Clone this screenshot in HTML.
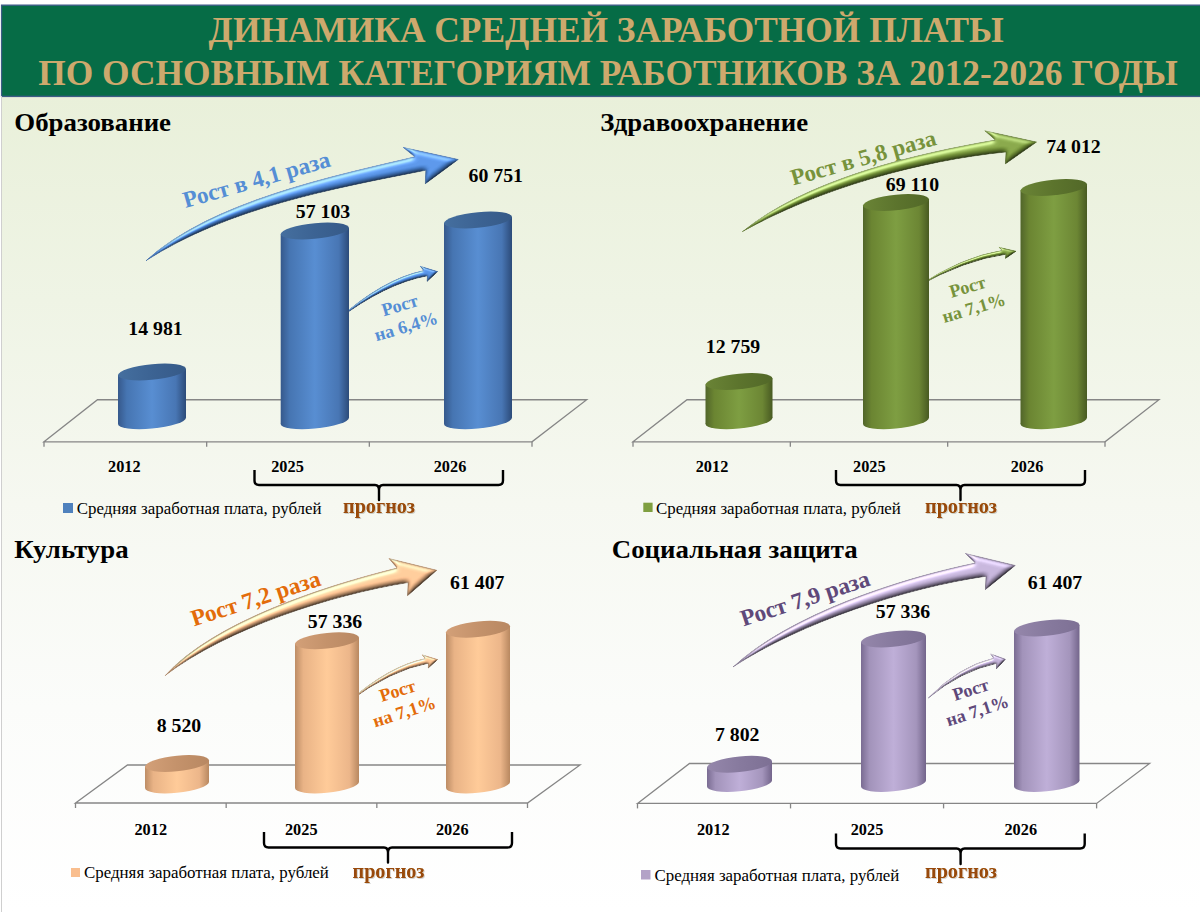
<!DOCTYPE html>
<html lang="ru"><head><meta charset="utf-8"><title>Динамика средней заработной платы</title>
<style>
html,body{margin:0;padding:0;background:#fff;}
body{width:1200px;height:912px;overflow:hidden;font-family:"Liberation Serif",serif;}
svg text{font-family:"Liberation Serif",serif;white-space:pre;}
</style></head><body>
<svg width="1200" height="912" viewBox="0 0 1200 912" font-family="'Liberation Serif', serif" style="display:block">
<defs>
<linearGradient id="gb_b" x1="0" y1="0" x2="1" y2="0"><stop offset="0" stop-color="#36598C"/><stop offset="0.13" stop-color="#4675B2"/><stop offset="0.5" stop-color="#588ED2"/><stop offset="0.85" stop-color="#4876B4"/><stop offset="1" stop-color="#2C4B79"/></linearGradient>
<linearGradient id="gt_b" x1="0" y1="0" x2="1" y2="0"><stop offset="0" stop-color="#456F9F"/><stop offset="0.5" stop-color="#3C6393"/><stop offset="1" stop-color="#365A88"/></linearGradient>
<linearGradient id="gb_g" x1="0" y1="0" x2="1" y2="0"><stop offset="0" stop-color="#51652A"/><stop offset="0.13" stop-color="#6B8532"/><stop offset="0.5" stop-color="#7E9E42"/><stop offset="0.85" stop-color="#6C8634"/><stop offset="1" stop-color="#485A22"/></linearGradient>
<linearGradient id="gt_g" x1="0" y1="0" x2="1" y2="0"><stop offset="0" stop-color="#6A8436"/><stop offset="0.5" stop-color="#5C742D"/><stop offset="1" stop-color="#526828"/></linearGradient>
<linearGradient id="gb_o" x1="0" y1="0" x2="1" y2="0"><stop offset="0" stop-color="#BD8D66"/><stop offset="0.13" stop-color="#E9B386"/><stop offset="0.5" stop-color="#FFCB99"/><stop offset="0.85" stop-color="#ECB68A"/><stop offset="1" stop-color="#B88860"/></linearGradient>
<linearGradient id="gt_o" x1="0" y1="0" x2="1" y2="0"><stop offset="0" stop-color="#D3A078"/><stop offset="0.5" stop-color="#C4926B"/><stop offset="1" stop-color="#B88862"/></linearGradient>
<linearGradient id="gb_p" x1="0" y1="0" x2="1" y2="0"><stop offset="0" stop-color="#7A6C92"/><stop offset="0.13" stop-color="#A293BA"/><stop offset="0.5" stop-color="#BFAFD8"/><stop offset="0.85" stop-color="#A495BC"/><stop offset="1" stop-color="#73658B"/></linearGradient>
<linearGradient id="gt_p" x1="0" y1="0" x2="1" y2="0"><stop offset="0" stop-color="#9587AB"/><stop offset="0.5" stop-color="#877A9E"/><stop offset="1" stop-color="#7D7094"/></linearGradient>
<filter id="bev" x="-5%" y="-10%" width="110%" height="120%" color-interpolation-filters="sRGB">
<feGaussianBlur in="SourceAlpha" stdDeviation="2.4" result="bl"/>
<feDiffuseLighting in="bl" surfaceScale="2.4" diffuseConstant="1.15" lighting-color="#ffffff" result="df"><feDistantLight azimuth="250" elevation="60"/></feDiffuseLighting>
<feComposite in="SourceGraphic" in2="df" operator="arithmetic" k1="1" k2="0" k3="0" k4="0" result="shaded"/>
<feSpecularLighting in="bl" surfaceScale="2.4" specularConstant="0.4" specularExponent="18" lighting-color="#ffffff" result="sp"><feDistantLight azimuth="250" elevation="42"/></feSpecularLighting>
<feComposite in="shaded" in2="sp" operator="arithmetic" k1="0" k2="1" k3="1" k4="0" result="lit"/>
<feMorphology in="SourceAlpha" operator="erode" radius="0.8" result="er"/>
<feComposite in="SourceAlpha" in2="er" operator="out" result="rim"/>
<feGaussianBlur in="rim" stdDeviation="0.45" result="rimb"/>
<feFlood flood-color="#000000" flood-opacity="0.22" result="fl"/>
<feComposite in="fl" in2="rimb" operator="in" result="rimc"/>
<feMerge result="mg"><feMergeNode in="lit"/><feMergeNode in="rimc"/></feMerge>
<feComposite in="mg" in2="SourceAlpha" operator="in"/>
</filter>
<filter id="bevo" x="-5%" y="-10%" width="110%" height="120%" color-interpolation-filters="sRGB">
<feGaussianBlur in="SourceAlpha" stdDeviation="2.4" result="bl"/>
<feDiffuseLighting in="bl" surfaceScale="2.7" diffuseConstant="1.15" lighting-color="#ffffff" result="df"><feDistantLight azimuth="250" elevation="60"/></feDiffuseLighting>
<feComposite in="SourceGraphic" in2="df" operator="arithmetic" k1="1" k2="0" k3="0" k4="0" result="shaded"/>
<feSpecularLighting in="bl" surfaceScale="2.7" specularConstant="0.32" specularExponent="16" lighting-color="#ffffff" result="sp"><feDistantLight azimuth="250" elevation="42"/></feSpecularLighting>
<feComposite in="shaded" in2="sp" operator="arithmetic" k1="0" k2="1" k3="1" k4="0" result="lit"/>
<feMorphology in="SourceAlpha" operator="erode" radius="0.8" result="er"/>
<feComposite in="SourceAlpha" in2="er" operator="out" result="rim"/>
<feGaussianBlur in="rim" stdDeviation="0.45" result="rimb"/>
<feFlood flood-color="#000000" flood-opacity="0.3" result="fl"/>
<feComposite in="fl" in2="rimb" operator="in" result="rimc"/>
<feMerge result="mg"><feMergeNode in="lit"/><feMergeNode in="rimc"/></feMerge>
<feComposite in="mg" in2="SourceAlpha" operator="in"/>
</filter>
<filter id="bevs" x="-5%" y="-10%" width="110%" height="120%" color-interpolation-filters="sRGB">
<feGaussianBlur in="SourceAlpha" stdDeviation="1.0" result="bl"/>
<feDiffuseLighting in="bl" surfaceScale="1.3" diffuseConstant="1.15" lighting-color="#ffffff" result="df"><feDistantLight azimuth="250" elevation="60"/></feDiffuseLighting>
<feComposite in="SourceGraphic" in2="df" operator="arithmetic" k1="1" k2="0" k3="0" k4="0" result="shaded"/>
<feSpecularLighting in="bl" surfaceScale="1.3" specularConstant="0.45" specularExponent="22" lighting-color="#ffffff" result="sp"><feDistantLight azimuth="250" elevation="42"/></feSpecularLighting>
<feComposite in="shaded" in2="sp" operator="arithmetic" k1="0" k2="1" k3="1" k4="0" result="lit"/>
<feMorphology in="SourceAlpha" operator="erode" radius="0.5" result="er"/>
<feComposite in="SourceAlpha" in2="er" operator="out" result="rim"/>
<feGaussianBlur in="rim" stdDeviation="0.45" result="rimb"/>
<feFlood flood-color="#000000" flood-opacity="0.22" result="fl"/>
<feComposite in="fl" in2="rimb" operator="in" result="rimc"/>
<feMerge result="mg"><feMergeNode in="lit"/><feMergeNode in="rimc"/></feMerge>
<feComposite in="mg" in2="SourceAlpha" operator="in"/>
</filter>
<filter id="tsh" x="-10%" y="-20%" width="120%" height="150%"><feGaussianBlur in="SourceAlpha" stdDeviation="0.6" result="b"/><feOffset in="b" dx="0.6" dy="0.8" result="o"/><feComponentTransfer in="o" result="o2"><feFuncA type="linear" slope="0.18"/></feComponentTransfer><feMerge><feMergeNode in="o2"/><feMergeNode in="SourceGraphic"/></feMerge></filter>
<linearGradient id="bg" x1="0" y1="0" x2="0" y2="1"><stop offset="0" stop-color="#e9f0da"/><stop offset="0.25" stop-color="#eff4e5"/><stop offset="0.5" stop-color="#f6f8f1"/><stop offset="0.75" stop-color="#fbfcfa"/><stop offset="1" stop-color="#ffffff"/></linearGradient>
<filter id="sb" x="-1%" y="-10%" width="102%" height="120%"><feGaussianBlur stdDeviation="0.6"/></filter>
</defs>
<rect x="0" y="0" width="1200" height="912" fill="#fff"/>
<rect x="2" y="96" width="1198" height="816" fill="url(#bg)"/>
<rect x="1.6" y="5.2" width="1200" height="91.2" fill="#3d5c86" stroke="#3d5c86" stroke-width="1.4" filter="url(#sb)"/>
<rect x="2.2" y="5.9" width="1200" height="89.8" fill="#066C46"/>
<line x1="1.5" y1="96" x2="1.5" y2="912" stroke="#cfcfcf" stroke-width="1"/>
<text x="606.2" y="41.6" font-size="35.36" font-weight="bold" fill="#CDA96D" text-anchor="middle" >ДИНАМИКА СРЕДНЕЙ ЗАРАБОТНОЙ ПЛАТЫ</text>
<text x="608" y="84.8" font-size="35.36" font-weight="bold" fill="#CDA96D" text-anchor="middle" >ПО ОСНОВНЫМ КАТЕГОРИЯМ РАБОТНИКОВ ЗА 2012-2026 ГОДЫ</text>
<text transform="translate(14.3,131) scale(1.005,0.93)" font-size="26.7" font-weight="bold">Образование</text>
<g fill="none" stroke="#868686" stroke-width="1.3">
<path d="M44,441.8 L97.5,399.75 L586.7,399.75 L532,441.8 Z"/>
<path d="M44,441.8 L44,446.8"/>
<path d="M206.67,441.8 L206.67,446.8"/>
<path d="M369.33,441.8 L369.33,446.8"/>
<path d="M532,441.8 L532,446.8"/>
</g>
<path d="M336.32,320.6 Q382.6,279.0 423.7,270.6 L420.2,266.2 L437.7,271.6 L427.0,281.5 L427.4,275.8 Q385.4,283.4 336.32,320.6 Z" fill="#4A86D9" stroke="#4A86D9" stroke-width="0.9" stroke-linejoin="round" filter="url(#bevs)"/>
<g fill="url(#gb_b)">
<path d="M118.00,375.10 L118.00,423.90 L186.00,417.70 L186.00,368.90 Z"/>
<ellipse cx="0" cy="0" rx="34.00" ry="7.8" transform="translate(152.00,420.80) skewY(-5.210)"/>
</g>
<ellipse cx="0" cy="0" rx="34.00" ry="7.8" transform="translate(152.00,372.00) skewY(-5.210)" fill="url(#gt_b)"/>
<g fill="url(#gb_b)">
<path d="M280.70,234.10 L280.70,423.90 L349.00,417.70 L349.00,227.90 Z"/>
<ellipse cx="0" cy="0" rx="34.15" ry="7.8" transform="translate(314.85,420.80) skewY(-5.187)"/>
</g>
<ellipse cx="0" cy="0" rx="34.15" ry="7.8" transform="translate(314.85,231.00) skewY(-5.187)" fill="url(#gt_b)"/>
<g fill="url(#gb_b)">
<path d="M444.00,223.10 L444.00,423.90 L512.00,417.70 L512.00,216.90 Z"/>
<ellipse cx="0" cy="0" rx="34.00" ry="7.8" transform="translate(478.00,420.80) skewY(-5.210)"/>
</g>
<ellipse cx="0" cy="0" rx="34.00" ry="7.8" transform="translate(478.00,220.00) skewY(-5.210)" fill="url(#gt_b)"/>
<text x="155.5" y="334.9" font-size="19.8" font-weight="bold" fill="#000" text-anchor="middle" >14 981</text>
<text x="323" y="218.4" font-size="19.8" font-weight="bold" fill="#000" text-anchor="middle" >57 103</text>
<text x="495.8" y="181.9" font-size="19.8" font-weight="bold" fill="#000" text-anchor="middle" >60 751</text>
<text x="124.3" y="472.2" font-size="16.3" font-weight="bold" fill="#000" text-anchor="middle" >2012</text>
<text x="287.5" y="472.2" font-size="16.3" font-weight="bold" fill="#000" text-anchor="middle" >2025</text>
<text x="450" y="472.2" font-size="16.3" font-weight="bold" fill="#000" text-anchor="middle" >2026</text>
<path d="M254.5,470 L254.5,480.5 Q254.5,485 259.0,485 L375,485 Q379,485 379,490 L379,500 L379,490 Q379,485 383,485 L498.5,485 Q503,485 503,480.5 L503,470" fill="none" stroke="#000" stroke-width="2.4" stroke-linejoin="round" stroke-linecap="butt"/>
<rect x="63" y="503" width="10" height="10" fill="#4F81BD"/>
<text x="76.7" y="514" font-size="16.9" font-weight="normal" fill="#000" text-anchor="start" >Средняя заработная плата, рублей</text>
<text x="379" y="513" font-size="20.2" font-weight="bold" fill="#984807" text-anchor="middle" filter="url(#tsh)">прогноз</text>
<path d="M146,260.7 C210.3,201.5 333.2,176 414.7,156.8 L403,147.3 L458.4,159.4 L425.2,183.9 L425.8,170.3 C331.3,189 228.6,207.7 146,260.7 Z" fill="#4A86D9" stroke="#4A86D9" stroke-width="0.8" stroke-linejoin="round" filter="url(#bev)"/>
<text x="185.6" y="208" font-size="23.3" font-weight="bold" fill="#558ED5" text-anchor="start" transform="rotate(-16 185.6 208)">Рост в 4,1 раза</text>
<g transform="translate(401.5,311) rotate(-16.3)" font-size="18.2" font-weight="bold" fill="#558ED5" text-anchor="middle"><text x="0" y="0">Рост</text><text x="0" y="22.1">на 6,4%</text></g>
<text transform="translate(600.3,131) scale(1.005,0.93)" font-size="26.7" font-weight="bold">Здравоохранение</text>
<g fill="none" stroke="#868686" stroke-width="1.3">
<path d="M633,441.8 L687,399.75 L1159,399.75 L1105,441.8 Z"/>
<path d="M633,441.8 L633,446.8"/>
<path d="M790.33,441.8 L790.33,446.8"/>
<path d="M947.67,441.8 L947.67,446.8"/>
<path d="M1105,441.8 L1105,446.8"/>
</g>
<path d="M916.52,287.02 Q961.93,256.61 1002.26,250.47 L998.83,247.25 L1016.0,251.2 L1005.5,258.44 L1005.89,254.27 Q964.68,259.83 916.52,287.02 Z" fill="#779739" stroke="#779739" stroke-width="0.9" stroke-linejoin="round" filter="url(#bevs)"/>
<g fill="url(#gb_g)">
<path d="M705.50,384.60 L705.50,423.90 L772.50,417.70 L772.50,378.40 Z"/>
<ellipse cx="0" cy="0" rx="33.50" ry="7.8" transform="translate(739.00,420.80) skewY(-5.287)"/>
</g>
<ellipse cx="0" cy="0" rx="33.50" ry="7.8" transform="translate(739.00,381.50) skewY(-5.287)" fill="url(#gt_g)"/>
<g fill="url(#gb_g)">
<path d="M863.00,205.60 L863.00,423.90 L929.00,417.70 L929.00,199.40 Z"/>
<ellipse cx="0" cy="0" rx="33.00" ry="7.8" transform="translate(896.00,420.80) skewY(-5.367)"/>
</g>
<ellipse cx="0" cy="0" rx="33.00" ry="7.8" transform="translate(896.00,202.50) skewY(-5.367)" fill="url(#gt_g)"/>
<g fill="url(#gb_g)">
<path d="M1020.50,190.60 L1020.50,423.90 L1087.00,417.70 L1087.00,184.40 Z"/>
<ellipse cx="0" cy="0" rx="33.25" ry="7.8" transform="translate(1053.75,420.80) skewY(-5.326)"/>
</g>
<ellipse cx="0" cy="0" rx="33.25" ry="7.8" transform="translate(1053.75,187.50) skewY(-5.326)" fill="url(#gt_g)"/>
<text x="733" y="352.9" font-size="19.8" font-weight="bold" fill="#000" text-anchor="middle" >12 759</text>
<text x="912.5" y="191.4" font-size="19.8" font-weight="bold" fill="#000" text-anchor="middle" >69 110</text>
<text x="1073.5" y="153.4" font-size="19.8" font-weight="bold" fill="#000" text-anchor="middle" >74 012</text>
<text x="712" y="472.2" font-size="16.3" font-weight="bold" fill="#000" text-anchor="middle" >2012</text>
<text x="869.3" y="472.2" font-size="16.3" font-weight="bold" fill="#000" text-anchor="middle" >2025</text>
<text x="1027" y="472.2" font-size="16.3" font-weight="bold" fill="#000" text-anchor="middle" >2026</text>
<path d="M836,470 L836,480.5 Q836,485 840.5,485 L956.5,485 Q960.5,485 960.5,490 L960.5,500 L960.5,490 Q960.5,485 964.5,485 L1080.5,485 Q1085,485 1085,480.5 L1085,470" fill="none" stroke="#000" stroke-width="2.4" stroke-linejoin="round" stroke-linecap="butt"/>
<rect x="643.3" y="502.7" width="9.3" height="9.3" fill="#7F9F40"/>
<text x="656" y="514" font-size="16.9" font-weight="normal" fill="#000" text-anchor="start" >Средняя заработная плата, рублей</text>
<text x="961" y="513.3" font-size="20.2" font-weight="bold" fill="#984807" text-anchor="middle" filter="url(#tsh)">прогноз</text>
<path d="M742.3,231.7 C806.4,179.3 914.4,153.9 995.3,140 L984.7,130.7 L1036.7,142 L1005.3,164 L1006,152 C918.4,160.9 819.3,188.7 742.3,231.7 Z" fill="#779739" stroke="#779739" stroke-width="0.8" stroke-linejoin="round" filter="url(#bev)"/>
<text x="793.3" y="185.6" font-size="23" font-weight="bold" fill="#77933C" text-anchor="start" transform="rotate(-15.9 793.3 185.6)">Рост в 5,8 раза</text>
<g transform="translate(969.2,292.55) rotate(-16.3)" font-size="18.2" font-weight="bold" fill="#77933C" text-anchor="middle"><text x="0" y="0">Рост</text><text x="0" y="22.1">на 7,1%</text></g>
<text transform="translate(14.3,557.5) scale(1.005,0.93)" font-size="26.7" font-weight="bold">Культура</text>
<g fill="none" stroke="#868686" stroke-width="1.3">
<path d="M75.5,803 L127.5,765 L580,765 L527.5,803 Z"/>
<path d="M75.5,803 L75.5,808"/>
<path d="M226.17,803 L226.17,808"/>
<path d="M376.83,803 L376.83,808"/>
<path d="M527.5,803 L527.5,808"/>
</g>
<path d="M347.5,702.41 Q388.67,665.98 425.24,658.62 L422.13,654.77 L437.7,659.5 L428.18,668.17 L428.54,663.18 Q391.17,669.83 347.5,702.41 Z" fill="#F6BC8B" stroke="#F6BC8B" stroke-width="0.9" stroke-linejoin="round" filter="url(#bevs)"/>
<g fill="url(#gb_o)">
<path d="M145.00,766.60 L145.00,788.10 L209.00,781.90 L209.00,760.40 Z"/>
<ellipse cx="0" cy="0" rx="32.00" ry="7.8" transform="translate(177.00,785.00) skewY(-5.533)"/>
</g>
<ellipse cx="0" cy="0" rx="32.00" ry="7.8" transform="translate(177.00,763.50) skewY(-5.533)" fill="url(#gt_o)"/>
<g fill="url(#gb_o)">
<path d="M295.00,643.85 L295.00,788.10 L359.00,781.90 L359.00,637.65 Z"/>
<ellipse cx="0" cy="0" rx="32.00" ry="7.8" transform="translate(327.00,785.00) skewY(-5.533)"/>
</g>
<ellipse cx="0" cy="0" rx="32.00" ry="7.8" transform="translate(327.00,640.75) skewY(-5.533)" fill="url(#gt_o)"/>
<g fill="url(#gb_o)">
<path d="M446.00,632.35 L446.00,788.10 L510.00,781.90 L510.00,626.15 Z"/>
<ellipse cx="0" cy="0" rx="32.00" ry="7.8" transform="translate(478.00,785.00) skewY(-5.533)"/>
</g>
<ellipse cx="0" cy="0" rx="32.00" ry="7.8" transform="translate(478.00,629.25) skewY(-5.533)" fill="url(#gt_o)"/>
<text x="179" y="731.9" font-size="19.8" font-weight="bold" fill="#000" text-anchor="middle" >8 520</text>
<text x="335" y="627.9" font-size="19.8" font-weight="bold" fill="#000" text-anchor="middle" >57 336</text>
<text x="477.25" y="588.9" font-size="19.8" font-weight="bold" fill="#000" text-anchor="middle" >61 407</text>
<text x="150.75" y="834.7" font-size="16.3" font-weight="bold" fill="#000" text-anchor="middle" >2012</text>
<text x="301.25" y="834.7" font-size="16.3" font-weight="bold" fill="#000" text-anchor="middle" >2025</text>
<text x="452.25" y="834.7" font-size="16.3" font-weight="bold" fill="#000" text-anchor="middle" >2026</text>
<path d="M264,832 L264,843.0 Q264,847.5 268.5,847.5 L384,847.5 Q388,847.5 388,852.5 L388,862.5 L388,852.5 Q388,847.5 392,847.5 L507.5,847.5 Q512,847.5 512,843.0 L512,832" fill="none" stroke="#000" stroke-width="2.4" stroke-linejoin="round" stroke-linecap="butt"/>
<rect x="71" y="868" width="9" height="9" fill="#F9BE8E"/>
<text x="84" y="878" font-size="16.9" font-weight="normal" fill="#000" text-anchor="start" >Средняя заработная плата, рублей</text>
<text x="388.5" y="878" font-size="20.2" font-weight="bold" fill="#984807" text-anchor="middle" filter="url(#tsh)">прогноз</text>
<path d="M165,675.7 C213.3,621.5 326.8,585.2 397,568 L388.8,558.4 L436.9,570.2 L407.5,595.8 L408.1,582.6 C331.7,594.8 226.8,628.3 165,675.7 Z" fill="#F6BC8B" stroke="#F6BC8B" stroke-width="0.8" stroke-linejoin="round" filter="url(#bevo)"/>
<text x="194" y="626.6" font-size="23.5" font-weight="bold" fill="#E36C0A" text-anchor="start" transform="rotate(-17.9 194 626.6)">Рост 7,2 раза</text>
<g transform="translate(399.3,696.5) rotate(-17.7)" font-size="18.2" font-weight="bold" fill="#E36C0A" text-anchor="middle"><text x="0" y="0">Рост</text><text x="0" y="22.1">на 7,1%</text></g>
<text transform="translate(611.8,557.5) scale(1.005,0.93)" font-size="26.7" font-weight="bold">Социальная защита</text>
<g fill="none" stroke="#868686" stroke-width="1.3">
<path d="M637.5,803.4 L689.5,763.5 L1149.6,763.5 L1096.6,803.4 Z"/>
<path d="M637.5,803.4 L637.5,808.4"/>
<path d="M790.53,803.4 L790.53,808.4"/>
<path d="M943.57,803.4 L943.57,808.4"/>
<path d="M1096.6,803.4 L1096.6,808.4"/>
</g>
<path d="M928.2,698.1 Q958.54,666.51 993.57,658.21 L990.59,653.87 L1005.5,659.2 L996.38,668.97 L996.72,663.35 Q960.93,670.85 928.2,698.1 Z" fill="#B7A6CC" stroke="#B7A6CC" stroke-width="0.9" stroke-linejoin="round" filter="url(#bevs)"/>
<g fill="url(#gb_p)">
<path d="M707.00,767.35 L707.00,786.60 L772.00,780.40 L772.00,761.15 Z"/>
<ellipse cx="0" cy="0" rx="32.50" ry="7.8" transform="translate(739.50,783.50) skewY(-5.449)"/>
</g>
<ellipse cx="0" cy="0" rx="32.50" ry="7.8" transform="translate(739.50,764.25) skewY(-5.449)" fill="url(#gt_p)"/>
<g fill="url(#gb_p)">
<path d="M861.00,642.10 L861.00,786.60 L926.00,780.40 L926.00,635.90 Z"/>
<ellipse cx="0" cy="0" rx="32.50" ry="7.8" transform="translate(893.50,783.50) skewY(-5.449)"/>
</g>
<ellipse cx="0" cy="0" rx="32.50" ry="7.8" transform="translate(893.50,639.00) skewY(-5.449)" fill="url(#gt_p)"/>
<g fill="url(#gb_p)">
<path d="M1014.00,631.10 L1014.00,786.60 L1079.50,780.40 L1079.50,624.90 Z"/>
<ellipse cx="0" cy="0" rx="32.75" ry="7.8" transform="translate(1046.75,783.50) skewY(-5.407)"/>
</g>
<ellipse cx="0" cy="0" rx="32.75" ry="7.8" transform="translate(1046.75,628.00) skewY(-5.407)" fill="url(#gt_p)"/>
<text x="737.25" y="740.9" font-size="19.8" font-weight="bold" fill="#000" text-anchor="middle" >7 802</text>
<text x="903" y="617.9" font-size="19.8" font-weight="bold" fill="#000" text-anchor="middle" >57 336</text>
<text x="1055" y="588.9" font-size="19.8" font-weight="bold" fill="#000" text-anchor="middle" >61 407</text>
<text x="713.25" y="834.5" font-size="16.3" font-weight="bold" fill="#000" text-anchor="middle" >2012</text>
<text x="867" y="834.5" font-size="16.3" font-weight="bold" fill="#000" text-anchor="middle" >2025</text>
<text x="1020.75" y="834.5" font-size="16.3" font-weight="bold" fill="#000" text-anchor="middle" >2026</text>
<path d="M836,833.5 L836,844.0 Q836,848.5 840.5,848.5 L956.6,848.5 Q960.6,848.5 960.6,853.5 L960.6,864 L960.6,853.5 Q960.6,848.5 964.6,848.5 L1080.2,848.5 Q1084.7,848.5 1084.7,844.0 L1084.7,833.5" fill="none" stroke="#000" stroke-width="2.4" stroke-linejoin="round" stroke-linecap="butt"/>
<rect x="641" y="870" width="9.5" height="9.5" fill="#B3A2C7"/>
<text x="654.5" y="880.5" font-size="16.9" font-weight="normal" fill="#000" text-anchor="start" >Средняя заработная плата, рублей</text>
<text x="961" y="878" font-size="20.2" font-weight="bold" fill="#984807" text-anchor="middle" filter="url(#tsh)">прогноз</text>
<path d="M733,667 C789.4,614.4 899.9,578.4 975.3,563 L965.3,553.4 L1015.4,565.4 L985.3,589.7 L986,576.3 C905.5,588 801.1,622.3 733,667 Z" fill="#B7A6CC" stroke="#B7A6CC" stroke-width="0.8" stroke-linejoin="round" filter="url(#bevo)"/>
<text x="743.4" y="626.6" font-size="23.5" font-weight="bold" fill="#5F497A" text-anchor="start" transform="rotate(-17.9 743.4 626.6)">Рост 7,9 раза</text>
<g transform="translate(972.4,695.4) rotate(-17.9)" font-size="18.2" font-weight="bold" fill="#5F497A" text-anchor="middle"><text x="0" y="0">Рост</text><text x="0" y="22.1">на 7,1%</text></g>
</svg>
</body></html>
